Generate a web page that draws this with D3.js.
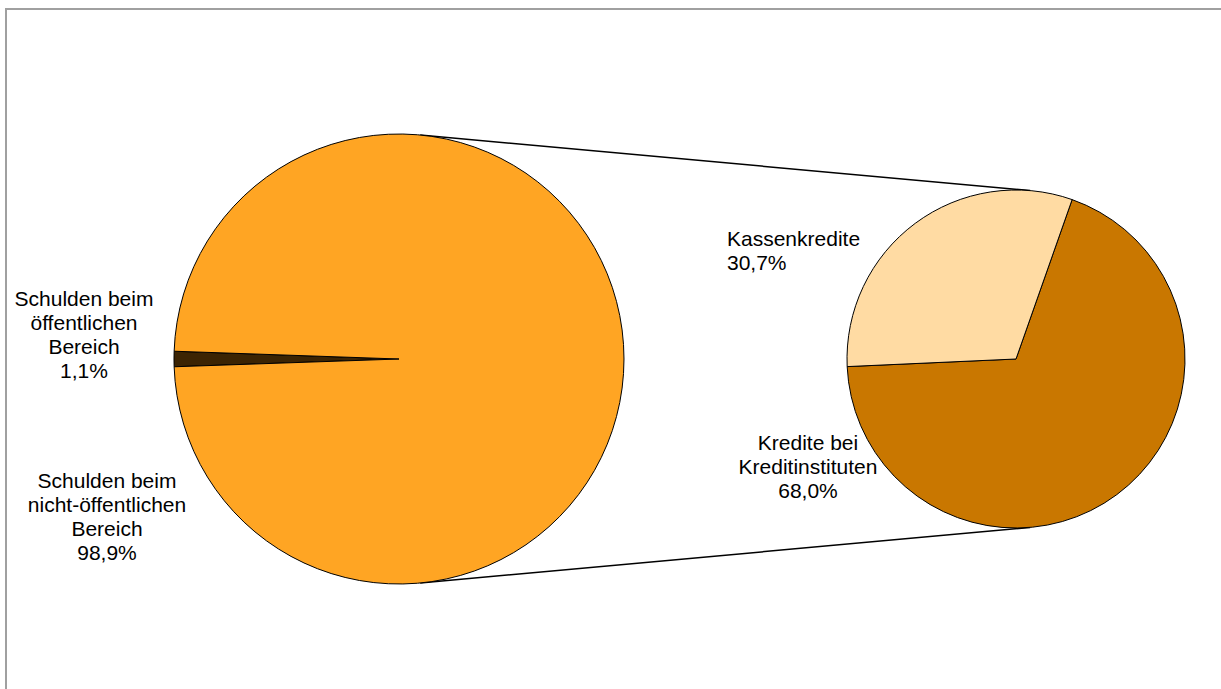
<!DOCTYPE html>
<html><head><meta charset="utf-8">
<script src="https://cdn.jsdelivr.net/npm/d3@7"></script>
<style>body{margin:0;background:#fff}svg{display:block}</style>
</head><body>
<script>
// Data
const mainLabels = ["Schulden beim öffentlichen Bereich", "Schulden beim nicht-öffentlichen Bereich"];
const mainValues = [1.1, 98.9];
const mainPct = ["1,1%", "98,9%"];
const subLabels = ["Kredite bei Kreditinstituten", "Kassenkredite"];
const subValues = [68.0, 30.7];
const subPct = ["68,0%", "30,7%"];

const W = 1221, H = 689;
const svg = d3.select("body").append("svg").attr("width", W).attr("height", H);
svg.append("rect").attr("x", 6).attr("y", 9).attr("width", W + 10).attr("height", H + 10)
  .attr("fill", "#fff").attr("stroke", "#a0a0a0").attr("stroke-width", 2);

const deg = Math.PI / 180;
const main = {cx: 399, cy: 359, r: 225};
const sub = {cx: 1016, cy: 359, r: 169};

const mainColors = ["#3c2403", "#ffa523"];
const subColors = ["#c97700", "#ffdba3"];

const mainHalf = mainValues[0] / d3.sum(mainValues) * 360 / 2;
const pieMain = d3.pie().sort(null).startAngle((270 - mainHalf) * deg).endAngle((630 - mainHalf) * deg);
const pieSub = d3.pie().sort(null).startAngle(19.4 * deg).endAngle(379.4 * deg);

const arcMain = d3.arc().innerRadius(0).outerRadius(main.r);
const arcSub = d3.arc().innerRadius(0).outerRadius(sub.r);

// connector lines
function pt(c, a) { return [c.cx + c.r * Math.sin(a * deg), c.cy - c.r * Math.cos(a * deg)]; }
const conn = [[pt(main, 5.4), pt(sub, 4.8)], [pt(main, 174.6), pt(sub, 175.2)]];
svg.selectAll("line.conn").data(conn).join("line")
  .attr("x1", d => d[0][0]).attr("y1", d => d[0][1])
  .attr("x2", d => d[1][0]).attr("y2", d => d[1][1])
  .attr("stroke", "#000").attr("stroke-width", 1.5);

svg.append("g").attr("transform", `translate(${main.cx},${main.cy})`)
  .selectAll("path").data(pieMain(mainValues)).join("path")
  .attr("d", arcMain).attr("fill", (d, i) => mainColors[i])
  .attr("stroke", "#000").attr("stroke-width", 1);

svg.append("g").attr("transform", `translate(${sub.cx},${sub.cy})`)
  .selectAll("path").data(pieSub(subValues)).join("path")
  .attr("d", arcSub).attr("fill", (d, i) => subColors[i])
  .attr("stroke", "#000").attr("stroke-width", 1);

// labels
const labels = [
  {lines: ["Schulden beim", "öffentlichen", "Bereich", mainPct[0]], x: 84, y: 306, anchor: "middle"},
  {lines: ["Schulden beim", "nicht-öffentlichen", "Bereich", mainPct[1]], x: 107, y: 488, anchor: "middle"},
  {lines: ["Kassenkredite", subPct[1]], x: 727, y: 246, anchor: "start"},
  {lines: ["Kredite bei", "Kreditinstituten", subPct[0]], x: 808, y: 450, anchor: "middle"}
];
labels.forEach(l => {
  const t = svg.append("text").attr("x", l.x).attr("y", l.y)
    .attr("text-anchor", l.anchor)
    .attr("font-family", "Liberation Sans, Arial, sans-serif")
    .attr("font-size", 21).attr("fill", "#000");
  l.lines.forEach((s, i) => t.append("tspan").attr("x", l.x).attr("dy", i ? 24 : 0).text(s));
});
</script>
</body></html>
